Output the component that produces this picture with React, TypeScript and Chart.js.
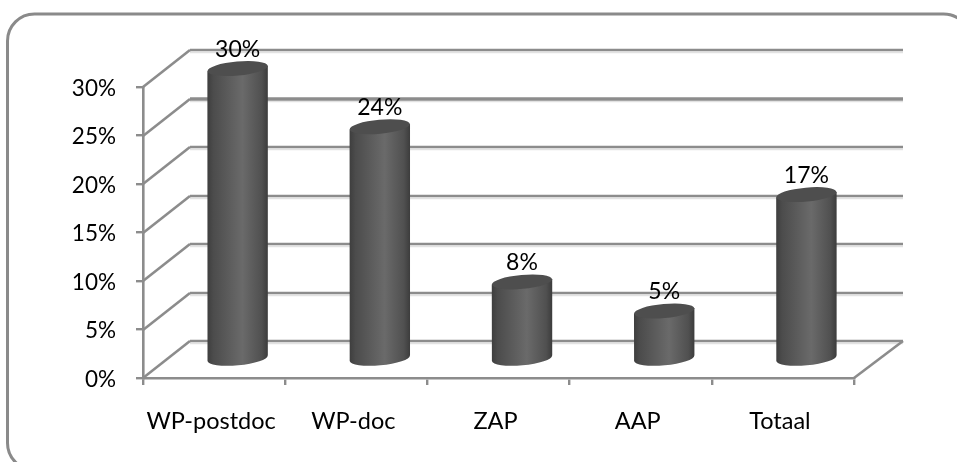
import React, { useEffect, useRef } from "react";
import { Chart, registerables } from "chart.js";

Chart.register(...registerables);

const categories = ["WP-postdoc", "WP-doc", "ZAP", "AAP", "Totaal"];
const shares = [30, 24, 8, 5, 17];
const axisTicks = [0, 5, 10, 15, 20, 25, 30];

const FONT = "Lato, 'Open Sans', sans-serif";
const LINE = "#8c8c8c";
const DEPTH_X = 47;
const DEPTH_Y = 37;

// Rounded frame around the whole chart; it runs past the right and bottom edges.
const framePlugin = {
  id: "frame",
  beforeDraw(chart: any) {
    const { ctx } = chart;
    ctx.save();
    ctx.strokeStyle = "#8a8a8a";
    ctx.lineWidth = 3;
    ctx.beginPath();
    ctx.roundRect(7.5, 14, 963, 456, 27);
    ctx.stroke();
    ctx.restore();
  },
};

// Floor and back wall of the 3D box, placed from the value scale.
const wallsPlugin = {
  id: "walls",
  beforeDatasetsDraw(chart: any) {
    const { ctx, chartArea, scales } = chart;
    const { left, right } = chartArea;
    ctx.save();
    ctx.lineCap = "butt";
    axisTicks.forEach((t) => {
      const y = Math.round(scales.y.getPixelForValue(t));
      const backY = y - DEPTH_Y;
      // soft shadow under each wall line
      ctx.strokeStyle = "#e2e2e2";
      ctx.lineWidth = 1.5;
      ctx.beginPath();
      ctx.moveTo(left + DEPTH_X, backY + 2.5);
      ctx.lineTo(right + DEPTH_X + 2, backY + 2.5);
      ctx.stroke();

      ctx.strokeStyle = LINE;
      ctx.lineWidth = t === 25 ? 3.4 : 2.6;
      ctx.beginPath();
      ctx.moveTo(left + DEPTH_X, backY);
      ctx.lineTo(right + DEPTH_X + 2, backY);
      ctx.stroke();

      ctx.lineWidth = 2.6;
      ctx.beginPath();
      ctx.moveTo(left, y);
      ctx.lineTo(left + DEPTH_X, backY);
      ctx.stroke();
    });
    const floorY = scales.y.getPixelForValue(0);
    ctx.lineWidth = 2.6;
    ctx.beginPath();
    ctx.moveTo(right, floorY);
    ctx.lineTo(right + DEPTH_X + 2, floorY - DEPTH_Y);
    ctx.stroke();
    ctx.restore();
  },
};

const tiltedEllipse = (ctx: any, cx: number, cy: number, rx: number, ry: number) => {
  ctx.beginPath();
  ctx.ellipse(cx, cy, rx, ry, -0.09, 0, Math.PI * 2);
};

// Replaces the flat bars with cylinders standing halfway into the box.
const cylinderPlugin = {
  id: "cylinders",
  beforeDatasetDraw(chart: any, args: any) {
    const { ctx } = chart;
    const meta = args.meta;
    ctx.save();
    meta.data.forEach((bar: any, i: number) => {
      const cx = bar.x + DEPTH_X / 2;
      const rx = bar.width / 2;
      const ry = 7;
      const topY = bar.y - DEPTH_Y / 2;
      const baseY = bar.base - DEPTH_Y / 2;
      const tilt = rx * Math.sin(0.09);

      const shade = ctx.createLinearGradient(cx - rx, 0, cx + rx, 0);
      shade.addColorStop(0, "#3e3e3e");
      shade.addColorStop(0.1, "#4c4c4c");
      shade.addColorStop(0.58, "#6a6a6a");
      shade.addColorStop(0.9, "#505050");
      shade.addColorStop(1, "#3c3c3c");

      ctx.fillStyle = shade;
      ctx.beginPath();
      ctx.moveTo(cx - rx, topY + tilt);
      ctx.lineTo(cx + rx, topY - tilt);
      ctx.lineTo(cx + rx, baseY - tilt);
      ctx.ellipse(cx, baseY, rx, ry, -0.09, 0, Math.PI);
      ctx.closePath();
      ctx.fill();

      ctx.fillStyle = chart.data.datasets[args.index].backgroundColor;
      tiltedEllipse(ctx, cx, topY, rx, ry);
      ctx.fill();

      ctx.fillStyle = "#000";
      ctx.font = `23px ${FONT}`;
      ctx.textAlign = "center";
      ctx.textBaseline = "middle";
      ctx.fillText(`${shares[i]}%`, cx, topY - 19);
    });
    ctx.restore();
    return false;
  },
};

export default function App() {
  const ref = useRef<HTMLCanvasElement>(null);

  useEffect(() => {
    const chart = new Chart(ref.current!, {
      type: "bar",
      data: {
        labels: categories,
        datasets: [
          {
            data: shares,
            backgroundColor: "#4e4e4e",
            categoryPercentage: 1,
            barPercentage: 0.425,
          },
        ],
      },
      options: {
        responsive: false,
        animation: false,
        layout: { padding: { top: 87, right: 103, left: 0, bottom: 0 } },
        plugins: { legend: { display: false }, tooltip: { enabled: false } },
        scales: {
          x: {
            afterFit: (s: any) => {
              s.height = 84;
            },
            border: { color: LINE, width: 2.6 },
            grid: { color: LINE, lineWidth: 2.4, drawOnChartArea: false, tickLength: 7 },
            ticks: {
              color: "#000",
              font: { family: FONT, size: 23.5 },
              padding: 22,
              maxRotation: 0,
              labelOffset: -3,
            },
          },
          y: {
            min: 0,
            max: 30,
            afterFit: (s: any) => {
              s.width = 143;
            },
            border: { color: LINE, width: 2.6 },
            grid: { color: LINE, lineWidth: 2.4, drawOnChartArea: false, tickLength: 7 },
            ticks: {
              stepSize: 5,
              color: "#000",
              font: { family: FONT, size: 22.5 },
              padding: 20,
              labelOffset: 1.5,
              callback: (v: any) => `${v}%`,
            },
          },
        },
      },
      plugins: [framePlugin, wallsPlugin, cylinderPlugin],
    });
    return () => chart.destroy();
  }, []);

  return (
    <canvas
      ref={ref}
      width={957}
      height={462}
      style={{ position: "absolute", left: 0, top: 0, width: 957, height: 462 }}
    />
  );
}
